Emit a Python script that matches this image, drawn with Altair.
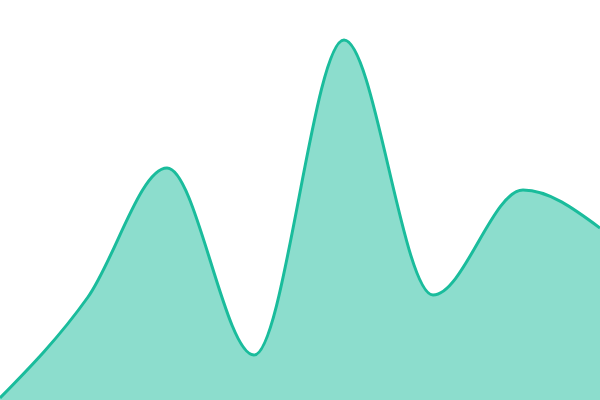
import altair as alt
import pandas as pd

xs = [0, 88, 167, 254, 344, 433, 523, 600]
values = [2, 103, 232, 45, 360, 105, 210, 172]

df = pd.DataFrame({"x": xs, "v": values})

base = alt.Chart(df).encode(
    x=alt.X("x:Q", scale=alt.Scale(domain=[0, 600], nice=False, zero=False), axis=None),
    y=alt.Y("v:Q", scale=alt.Scale(domain=[0, 400], nice=False), axis=None),
)

area = base.mark_area(interpolate="monotone", color="#1abc9c", opacity=0.5)
line = base.mark_line(interpolate="monotone", color="#1abc9c", strokeWidth=3)

chart = (area + line).properties(
    width=600, height=400, padding=0,
    autosize=alt.AutoSizeParams(type="none"),
).configure_view(stroke=None)

chart.save("out.html", embed_options={"renderer": "svg", "actions": False})

with open("out.html") as f:
    html = f.read()
html = html.replace("<head>", "<head><style>body{margin:0;overflow:hidden}</style>", 1)
with open("out.html", "w") as f:
    f.write(html)
